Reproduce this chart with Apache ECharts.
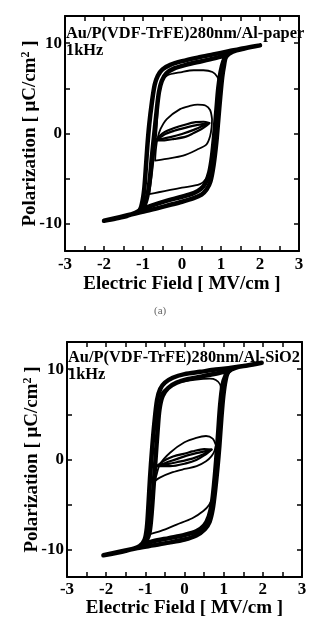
<!DOCTYPE html>
<html>
<head>
<meta charset="utf-8">
<script src="https://cdn.jsdelivr.net/npm/echarts@6/dist/echarts.min.js"></script>
<style>
  html, body { margin: 0; padding: 0; background: #fff; }
  #chart { width: 323px; height: 630px; }
</style>
</head>
<body>
<div id="chart"></div>
<script>
// P-E hysteresis loops, Au/P(VDF-TrFE)280nm on Al-paper and Al-SiO2, 1 kHz
const xTicks = [-3, -2.5, -2, -1.5, -1, -0.5, 0, 0.5, 1, 1.5, 2, 2.5, 3];
const xTickLabels = [-3, -2, -1, 0, 1, 2, 3];
const yTicks = [-10, -5, 0, 5, 10];
const yTickLabels = [-10, 0, 10];

const paperTitle = 'Au/P(VDF-TrFE)280nm/Al-paper';
const sio2Title = 'Au/P(VDF-TrFE)280nm/Al-SiO2';
const freqLabel = '1kHz';

// ---- Al-paper: [E (MV/cm), P (uC/cm2)] ----
const paperOuter = [
  [2.0,9.75],[1.6,9.45],[1.2,9.1],[0.8,8.75],[0.4,8.4],[0.0,8.0],[-0.3,7.6],[-0.5,7.1],[-0.62,6.4],[-0.7,5.4],
  [-0.77,3.5],[-0.84,1.0],[-0.89,-1.5],[-0.93,-4.0],[-0.97,-6.2],[-1.02,-7.6],[-1.1,-8.55],[-1.4,-9.1],[-1.7,-9.4],[-2.0,-9.65],
  [-1.6,-9.25],[-1.2,-8.85],[-0.8,-8.45],[-0.4,-8.0],[0.0,-7.55],[0.3,-7.15],[0.5,-6.75],[0.63,-6.2],[0.73,-5.3],[0.81,-3.5],
  [0.88,-1.0],[0.93,1.5],[0.98,4.0],[1.03,6.2],[1.08,7.6],[1.13,8.5],[1.3,9.05],[1.6,9.4],[2.0,9.75]
];
const paperMajor = [
  [1.15,8.7],[0.9,8.4],[0.5,8.0],[0.1,7.6],[-0.2,7.2],[-0.4,6.65],[-0.52,5.8],[-0.59,4.6],[-0.65,2.5],[-0.71,0.0],
  [-0.77,-2.5],[-0.82,-4.8],[-0.87,-6.5],[-0.95,-7.8],[-1.08,-8.45],
  [-0.8,-8.0],[-0.4,-7.45],[0.0,-7.0],[0.3,-6.6],[0.48,-6.15],[0.6,-5.5],[0.7,-4.3],[0.77,-2.5],[0.83,0.0],[0.88,2.5],
  [0.93,5.0],[0.99,6.8],[1.06,8.0],[1.15,8.7]
];
const paperLoopC = [
  [1.0,4.6],[0.97,5.6],[0.9,6.3],[0.78,6.8],[0.55,7.0],[0.3,7.0],[0.0,6.8],[-0.39,6.4],[-0.55,5.4],[-0.61,3.8],
  [-0.63,2.0],[-0.66,0.0],[-0.72,-2.5],[-0.78,-4.8],[-0.84,-6.7],
  [-0.6,-6.5],[-0.3,-6.25],[0.0,-6.0],[0.46,-5.6],[0.62,-5.0],[0.72,-4.1],[0.79,-2.6],[0.85,-0.8],[0.9,1.2],[0.95,3.0],[1.0,4.6]
];
const paperLoopB = [
  [0.77,1.6],[0.72,2.6],[0.6,3.1],[0.4,3.2],[0.2,3.05],[-0.05,2.7],[-0.39,1.6],[-0.55,0.5],[-0.63,-0.6],[-0.67,-1.8],[-0.69,-3.0],
  [-0.4,-2.8],[0.03,-2.45],[0.38,-1.8],[0.63,-1.2],[0.72,-0.3],[0.76,0.7],[0.77,1.6]
];
const paperLoopA = [
  [0.7,1.15],[0.55,1.3],[0.35,1.25],[0.1,1.0],[-0.2,0.6],[-0.45,0.15],[-0.58,-0.3],[-0.67,-0.75],
  [-0.45,-0.75],[-0.2,-0.6],[0.1,-0.35],[0.3,0.05],[0.5,0.5],[0.62,0.85],[0.7,1.15]
];
const paperLoopAInner = [
  [0.7,1.15],[0.4,0.95],[0.1,0.65],[-0.2,0.3],[-0.45,-0.1],[-0.67,-0.75],
  [-0.3,-0.4],[0.0,-0.05],[0.3,0.4],[0.55,0.85],[0.7,1.15]
];

// ---- Al-SiO2 ----
const sio2Outer = [
  [1.97,10.7],[1.6,10.4],[1.2,10.15],[0.8,9.95],[0.4,9.7],[0.0,9.45],[-0.3,9.05],[-0.5,8.5],[-0.62,7.8],[-0.7,6.6],
  [-0.77,4.0],[-0.83,1.0],[-0.88,-2.0],[-0.92,-5.0],[-0.96,-7.5],[-1.02,-8.9],[-1.15,-9.6],[-1.5,-10.1],[-2.07,-10.6],
  [-1.6,-10.15],[-1.2,-9.8],[-0.8,-9.5],[-0.4,-9.2],[0.0,-8.85],[0.3,-8.4],[0.52,-7.7],[0.64,-6.9],[0.72,-5.5],[0.78,-3.5],
  [0.84,-1.0],[0.89,1.5],[0.94,4.5],[0.99,7.0],[1.05,8.8],[1.12,9.7],[1.3,10.15],[1.6,10.4],[1.97,10.7]
];
const sio2Major = [
  [1.15,9.9],[0.9,9.6],[0.5,9.25],[0.1,8.9],[-0.2,8.5],[-0.42,7.9],[-0.56,7.0],[-0.64,5.5],[-0.69,3.0],[-0.74,0.0],
  [-0.79,-3.0],[-0.84,-6.0],[-0.89,-8.0],[-0.97,-9.0],[-1.05,-9.4],
  [-0.8,-9.05],[-0.4,-8.7],[0.0,-8.35],[0.3,-7.95],[0.5,-7.3],[0.62,-6.3],[0.7,-4.8],[0.76,-2.5],[0.81,0.0],[0.86,3.0],
  [0.91,6.0],[0.97,8.2],[1.05,9.3],[1.15,9.9]
];
const sio2LoopC = [
  [0.93,7.5],[0.91,8.3],[0.8,8.8],[0.65,8.95],[0.3,8.85],[-0.16,8.5],[-0.45,7.9],[-0.6,7.2],[-0.66,5.0],[-0.71,2.0],
  [-0.75,-0.5],[-0.8,-3.0],[-0.84,-5.5],[-0.88,-7.5],[-0.92,-8.3],
  [-0.6,-7.9],[-0.2,-7.2],[0.2,-6.5],[0.48,-5.7],[0.63,-5.0],[0.73,-4.0],[0.78,-2.0],[0.83,1.0],[0.87,4.0],[0.93,7.5]
];
const sio2LoopB = [
  [0.8,1.6],[0.72,2.3],[0.55,2.6],[0.3,2.4],[0.0,1.9],[-0.37,0.75],[-0.63,-0.55],[-0.72,-1.8],[-0.76,-2.4],
  [-0.63,-2.0],[-0.3,-1.4],[0.0,-1.05],[0.31,-0.74],[0.55,-0.2],[0.69,0.37],[0.77,1.0],[0.8,1.6]
];
const sio2LoopA = [
  [0.69,1.1],[0.5,1.15],[0.2,0.9],[0.06,0.72],[-0.2,0.45],[-0.37,0.2],[-0.55,-0.2],[-0.71,-0.74],
  [-0.37,-0.74],[0.06,-0.4],[0.3,-0.05],[0.5,0.45],[0.69,1.1]
];
const sio2LoopAInner = [
  [0.69,1.1],[0.3,0.7],[0.0,0.35],[-0.37,-0.2],[-0.71,-0.74],
  [-0.2,-0.3],[0.2,0.1],[0.5,0.6],[0.69,1.1]
];

const FONT = '"Liberation Serif", "Times New Roman", serif';
const INK = '#000';

function xAxes(gridIndex, nameGap, labelMargin) {
  return [
    {
      gridIndex, type: 'value', position: 'bottom', min: -3, max: 3,
      name: 'Electric Field [ MV/cm ]', nameLocation: 'middle', nameGap, nameMoveOverlap: false,
      nameTextStyle: { fontFamily: FONT, fontWeight: 'bold', fontSize: 19, color: INK },
      axisLine: { onZero: false, lineStyle: { color: INK, width: 2 } },
      axisTick: { inside: true, length: 5, customValues: xTicks, lineStyle: { color: INK, width: 1.5 } },
      axisLabel: { customValues: xTickLabels, margin: labelMargin, fontFamily: FONT, fontWeight: 'bold', fontSize: 17, color: INK },
      splitLine: { show: false }
    },
    {
      gridIndex, type: 'value', position: 'top', min: -3, max: 3,
      axisLine: { onZero: false, lineStyle: { color: INK, width: 2 } },
      axisTick: { inside: true, length: 5, customValues: xTicks, lineStyle: { color: INK, width: 1.5 } },
      axisLabel: { show: false },
      splitLine: { show: false }
    }
  ];
}

function yAxes(gridIndex, nameGap) {
  return [
    {
      gridIndex, type: 'value', position: 'left', min: -13, max: 13,
      name: 'Polarization [ μC/cm{sup|2} ]', nameLocation: 'middle', nameGap, nameRotate: 90, nameMoveOverlap: false,
      nameTextStyle: {
        fontFamily: FONT, fontWeight: 'bold', fontSize: 19, color: INK,
        rich: { sup: { fontFamily: FONT, fontWeight: 'bold', fontSize: 12, color: INK, verticalAlign: 'top', padding: [0, 0, 9, 0] } }
      },
      axisLine: { onZero: false, lineStyle: { color: INK, width: 2 } },
      axisTick: { inside: true, length: 5, customValues: yTicks, lineStyle: { color: INK, width: 1.5 } },
      axisLabel: { customValues: yTickLabels, margin: 3, fontFamily: FONT, fontWeight: 'bold', fontSize: 17, color: INK },
      splitLine: { show: false }
    },
    {
      gridIndex, type: 'value', position: 'right', min: -13, max: 13,
      axisLine: { onZero: false, lineStyle: { color: INK, width: 2 } },
      axisTick: { inside: true, length: 5, customValues: yTicks, lineStyle: { color: INK, width: 1.5 } },
      axisLabel: { show: false },
      splitLine: { show: false }
    }
  ];
}

function loop(data, xIdx, yIdx, width) {
  return {
    type: 'line', data, xAxisIndex: xIdx, yAxisIndex: yIdx,
    showSymbol: false, smooth: 0.3, silent: true,
    lineStyle: { color: INK, width, join: 'round', cap: 'round' }
  };
}

const chart = echarts.init(document.getElementById('chart'), null, { renderer: 'canvas' });
chart.setOption({
  animation: false,
  backgroundColor: '#fff',
  grid: [
    { left: 65, top: 16, width: 234, height: 235 },
    { left: 67, top: 342, width: 235, height: 235 }
  ],
  xAxis: [...xAxes(0, 24, 5), ...xAxes(1, 22, 4)],
  yAxis: [...yAxes(0, 24), ...yAxes(1, 24)],
  graphic: [
    { type: 'text', left: 66, top: 26, style: { text: paperTitle, font: 'bold 16.4px ' + FONT, fill: INK } },
    { type: 'text', left: 66, top: 43, style: { text: freqLabel, font: 'bold 16.4px ' + FONT, fill: INK } },
    { type: 'text', left: 154, top: 306, style: { text: '(a)', font: '11px ' + FONT, fill: '#666' } },
    { type: 'text', left: 68, top: 350, style: { text: sio2Title, font: 'bold 16.4px ' + FONT, fill: INK } },
    { type: 'text', left: 68, top: 367, style: { text: freqLabel, font: 'bold 16.4px ' + FONT, fill: INK } }
  ],
  series: [
    loop(paperOuter, 0, 0, 4.5),
    loop(paperMajor, 0, 0, 4.5),
    loop(paperLoopC, 0, 0, 1.8),
    loop(paperLoopB, 0, 0, 1.8),
    loop(paperLoopA, 0, 0, 2.2),
    loop(paperLoopAInner, 0, 0, 2.2),
    loop(sio2Outer, 2, 2, 4.5),
    loop(sio2Major, 2, 2, 4.5),
    loop(sio2LoopC, 2, 2, 1.8),
    loop(sio2LoopB, 2, 2, 1.8),
    loop(sio2LoopA, 2, 2, 2.2),
    loop(sio2LoopAInner, 2, 2, 2.2)
  ]
});
</script>
</body>
</html>
